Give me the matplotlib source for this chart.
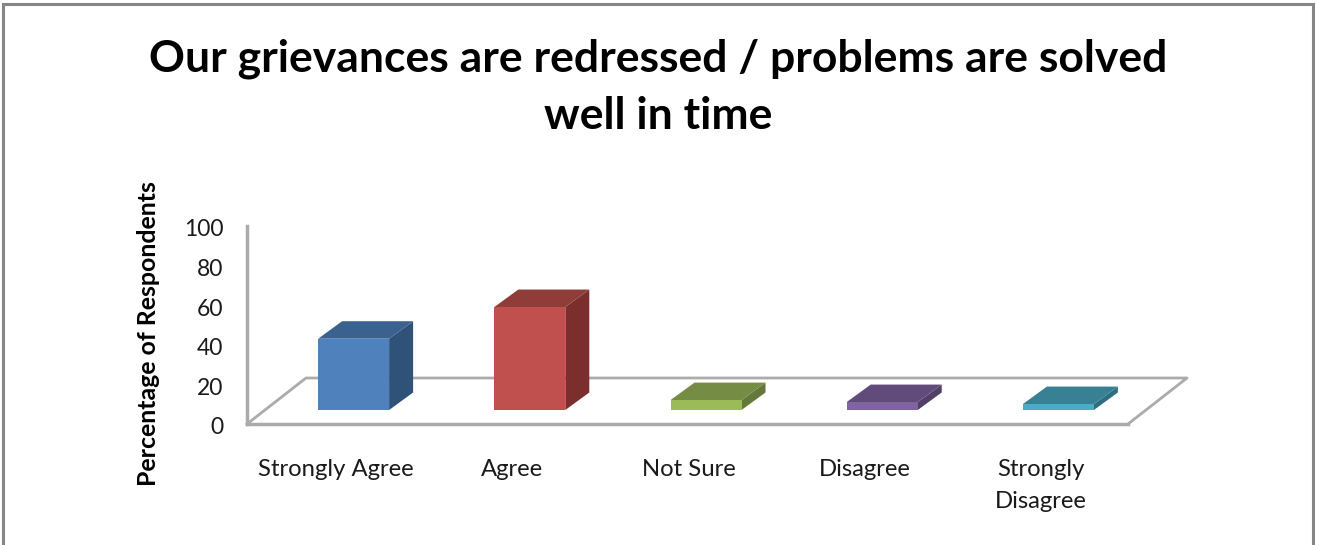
import matplotlib
matplotlib.use('Agg')
import matplotlib.pyplot as plt
from matplotlib.patches import Polygon, Rectangle
from matplotlib.transforms import ScaledTranslation

plt.rcParams['font.family'] = ['Lato', 'DejaVu Sans']

# Chart data
categories = ['Strongly Agree', 'Agree', 'Not Sure', 'Disagree', 'Strongly\nDisagree']
values = [36, 52, 5, 4, 3]
y_ticks = [0, 20, 40, 60, 80, 100]
title = 'Our grievances are redressed / problems are solved\nwell in time'
y_label = 'Percentage of Respondents'

# Face colours of each bar
front_colors = ['#4F81BD', '#C0504D', '#9BBB59', '#8064A2', '#4BACC6']
top_colors = ['#3B618E', '#903C39', '#748C43', '#604B7A', '#388195']
side_colors = ['#2F5279', '#7A2F2D', '#63783A', '#513F68', '#2F6E80']

W, H = 1317, 545
AX_L, AX_R, AX_T, AX_B = 247, 1128, 226, 424  # pixels from the top left
GRAY = '#ABABAB'

fig = plt.figure(figsize=(W / 100, H / 100), dpi=100)
fig.patch.set_facecolor('white')

# Chart border, open at the bottom of the picture
fig.add_artist(Rectangle((3.5 / W, -0.02), 1309.5 / W, 1.02 - 4 / H, transform=fig.transFigure,
                         fill=False, edgecolor='#868686', linewidth=2.2))

ax = fig.add_axes([AX_L / W, 1 - AX_B / H, (AX_R - AX_L) / W, (AX_B - AX_T) / H])
ax.set_xlim(-0.5, 4.5)
ax.set_ylim(0, 100)
ax.patch.set_alpha(0)

# Pixel sizes expressed in data units
px_x = 5 / (AX_R - AX_L)
px_y = 100 / (AX_B - AX_T)

# Floor of the 3D box
floor_dx, floor_dy = 59 * px_x, 46 * px_y
ax.plot([-0.5, -0.5 + floor_dx, 4.5 + floor_dx, 4.5],
        [0, floor_dy, floor_dy, 0], color=GRAY, linewidth=2.0, clip_on=False, zorder=1)

# Bars: front, top and side faces
bar_w = 71 * px_x
off_x, off_y = 18.5 * px_x, 14 * px_y
dep_x, dep_y = 24 * px_x, 17.5 * px_y
for i, v in enumerate(values):
    x0 = i + off_x - bar_w / 2
    x1 = x0 + bar_w
    y0 = off_y
    y1 = y0 + v
    ax.add_patch(Polygon([(x1, y0), (x1 + dep_x, y0 + dep_y), (x1 + dep_x, y1 + dep_y), (x1, y1)],
                         facecolor=side_colors[i], edgecolor='none', clip_on=False, zorder=3))
    ax.add_patch(Polygon([(x0, y1), (x1, y1), (x1 + dep_x, y1 + dep_y), (x0 + dep_x, y1 + dep_y)],
                         facecolor=top_colors[i], edgecolor='none', clip_on=False, zorder=3))
    ax.add_patch(Rectangle((x0, y0), bar_w, v, facecolor=front_colors[i], edgecolor='none',
                           clip_on=False, zorder=4))

# Axes
for side in ['top', 'right']:
    ax.spines[side].set_visible(False)
for side in ['left', 'bottom']:
    ax.spines[side].set_color(GRAY)
    ax.spines[side].set_linewidth(2.5)
ax.set_yticks(y_ticks)
ax.set_xticks(range(len(categories)))
ax.set_xticklabels(categories, linespacing=1.65)
ax.tick_params(axis='y', length=0, pad=17, labelsize=16.5, labelcolor='#1a1a1a')
ax.tick_params(axis='x', length=0, pad=25, labelsize=17.2, labelcolor='#1a1a1a')

# Value labels sit slightly below their tick position, category labels slightly right
shift_down = ScaledTranslation(0, -2 / 100, fig.dpi_scale_trans)
for label in ax.get_yticklabels():
    label.set_transform(label.get_transform() + shift_down)
shift_right = ScaledTranslation(1 / 100, 0, fig.dpi_scale_trans)
for label in ax.get_xticklabels():
    label.set_transform(label.get_transform() + shift_right)

fig.text(148 / W, 1 - 334 / H, y_label, rotation=90, ha='center', va='center',
         fontsize=17.9, fontweight='bold', color='black')
fig.text(658 / W, 1 - 87.5 / H, title, ha='center', va='center', fontsize=32,
         fontweight='bold', color='black', linespacing=1.53)

fig.savefig('out.png', dpi=100)
